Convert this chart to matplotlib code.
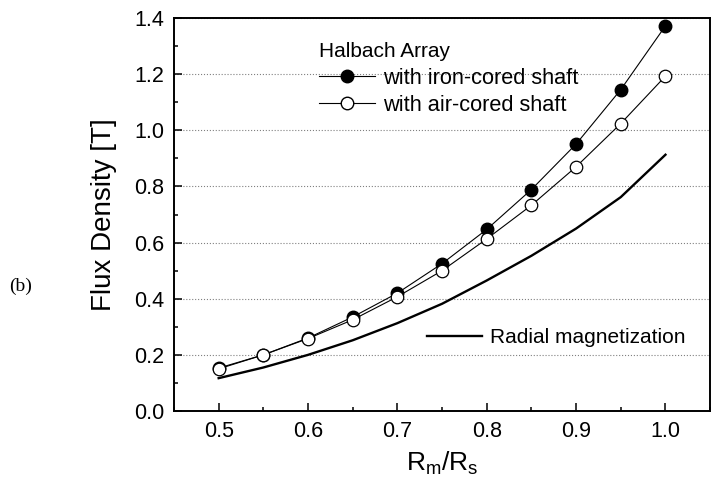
import matplotlib
matplotlib.use("Agg")
import matplotlib.pyplot as plt
from matplotlib.lines import Line2D
from matplotlib.ticker import MultipleLocator, FormatStrFormatter

plt.rcParams['font.family'] = ['Liberation Sans', 'DejaVu Sans']
plt.rcParams['mathtext.fontset'] = 'custom'
plt.rcParams['mathtext.rm'] = 'Liberation Sans'
plt.rcParams['mathtext.it'] = 'Liberation Sans'

ratio = [0.50, 0.55, 0.60, 0.65, 0.70, 0.75, 0.80, 0.85, 0.90, 0.95, 1.00]
iron_cored = [0.153, 0.20, 0.26, 0.335, 0.42, 0.525, 0.647, 0.789, 0.951, 1.145, 1.372]
air_cored = [0.150, 0.20, 0.258, 0.325, 0.407, 0.500, 0.613, 0.733, 0.870, 1.024, 1.193]
radial = [0.117, 0.155, 0.200, 0.252, 0.313, 0.382, 0.465, 0.553, 0.650, 0.762, 0.913]

fig = plt.figure(figsize=(7.13, 4.84), dpi=100)
ax = fig.add_axes([0.244, 0.1508, 0.752, 0.812])

ax.plot(ratio, iron_cored, color='black', lw=0.8, marker='o', ms=9,
        mfc='black', mec='black')
ax.plot(ratio, air_cored, color='black', lw=0.8, marker='o', ms=9,
        mfc='white', mec='black', mew=0.9)
ax.plot(ratio, radial, color='black', lw=1.7)

ax.set_xlim(0.45, 1.05)
ax.set_ylim(0.0, 1.4)
ax.xaxis.set_major_locator(MultipleLocator(0.1))
ax.xaxis.set_minor_locator(MultipleLocator(0.05))
ax.yaxis.set_major_locator(MultipleLocator(0.2))
ax.yaxis.set_minor_locator(MultipleLocator(0.1))
ax.tick_params(which='both', direction='in', top=False, right=False,
               labelsize=15.5, width=1.1)
ax.tick_params(which='major', length=5.5, pad=7)
ax.tick_params(which='minor', length=3)
ax.xaxis.set_major_formatter(FormatStrFormatter('%.1f'))
ax.yaxis.set_major_formatter(FormatStrFormatter('%.1f'))
for s in ax.spines.values():
    s.set_linewidth(1.4)
ax.yaxis.grid(True, which='major', linestyle=':', color='gray', lw=0.8)
ax.set_axisbelow(True)

ax.set_ylabel('Flux Density [T]', fontsize=20)
ax.yaxis.set_label_coords(-0.106, 0.5)
ax.set_xlabel(r'$\mathregular{R_m/R_s}$', fontsize=19, labelpad=6)

h1 = Line2D([], [], color='black', lw=0.8, marker='o', ms=9, mfc='black', mec='black')
h2 = Line2D([], [], color='black', lw=0.8, marker='o', ms=9, mfc='white', mec='black')
leg1 = ax.legend([h1, h2], ['with iron-cored shaft', 'with air-cored shaft'],
                 title='Halbach Array', title_fontsize=15, fontsize=15.7,
                 loc='upper left', bbox_to_anchor=(0.270, 0.939), frameon=False,
                 handlelength=2.6, handletextpad=0.33, labelspacing=0.3,
                 borderpad=0, borderaxespad=0, alignment='left')
ax.add_artist(leg1)
h3 = Line2D([], [], color='black', lw=1.7)
ax.legend([h3], ['Radial magnetization'], fontsize=15, loc='center left',
          bbox_to_anchor=(0.472, 0.187), frameon=False, handlelength=2.65,
          handletextpad=0.38, borderpad=0, borderaxespad=0)

fig.text(0.0295, 0.409, '(b)', fontsize=14, family='Liberation Serif',
         ha='center', va='center')

fig.savefig('out.png', dpi=100)
